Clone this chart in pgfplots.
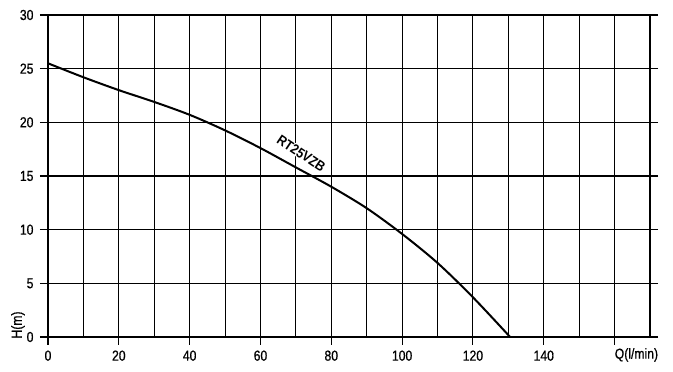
\documentclass[border=0pt]{standalone}
\usepackage{pgfplots}
\pgfplotsset{compat=1.18}
\usepackage{fontspec}
\setmainfont{Liberation Sans}[FakeStretch=0.84, FakeBold=0.6]
\newfontfamily\labelfont{Liberation Sans}[FakeStretch=0.88]
\begin{document}
\begin{tikzpicture}
\begin{axis}[
  scale only axis, width=602pt, height=322pt,
  xmin=0, xmax=170, ymin=0, ymax=30,
  xtick={0,20,...,160},
  xticklabels={0,20,40,60,80,100,120,140,{}},
  minor xtick={10,30,...,170},
  ytick={0,5,...,30},
  xmajorgrids, xminorgrids, ymajorgrids,
  grid style={black, line width=1.1pt},
  minor grid style={black, line width=1.1pt},
  axis line style={black, line width=1.1pt},
  tick style={black, line width=1.1pt},
  tick align=outside,
  major tick length=8pt, minor tick length=0pt,
  xtick pos=bottom, ytick pos=both,
  yticklabel style={xshift=-3pt},
  xticklabel style={yshift=-2pt},
  ticklabel style={font=\fontsize{14.5}{14.5}\selectfont},
  /pgf/number format/assume math mode=true,
  clip=false,
]
\addplot[black, line width=2pt, smooth] coordinates {
  (0,25.5) (10,24.2) (20,23.0) (30,21.9) (40,20.7) (50,19.25) (60,17.6)
  (70,15.8) (80,14.0) (90,12.0) (100,9.6) (110,6.9) (120,3.7) (130.5,0)
};
\node[rotate=-34, font=\labelfont\bfseries\fontsize{14}{14}\selectfont, fill=white, inner sep=0.5pt] at (axis cs:71.5,17.1) {RT25VZB};
\node[anchor=north west, font=\fontsize{14.5}{14.5}\selectfont, inner sep=0pt] at ([xshift=0pt,yshift=-11pt]axis cs:160,0) {Q(l/min)};
\node[rotate=90, font=\fontsize{14.5}{14.5}\selectfont] at ([xshift=-30pt,yshift=12pt]rel axis cs:0,0) {H(m)};
\end{axis}
\pgfresetboundingbox
\path[use as bounding box] ([xshift=-48pt,yshift=-35pt]current axis.origin) rectangle ++(673pt,372pt);
\end{tikzpicture}
\end{document}
